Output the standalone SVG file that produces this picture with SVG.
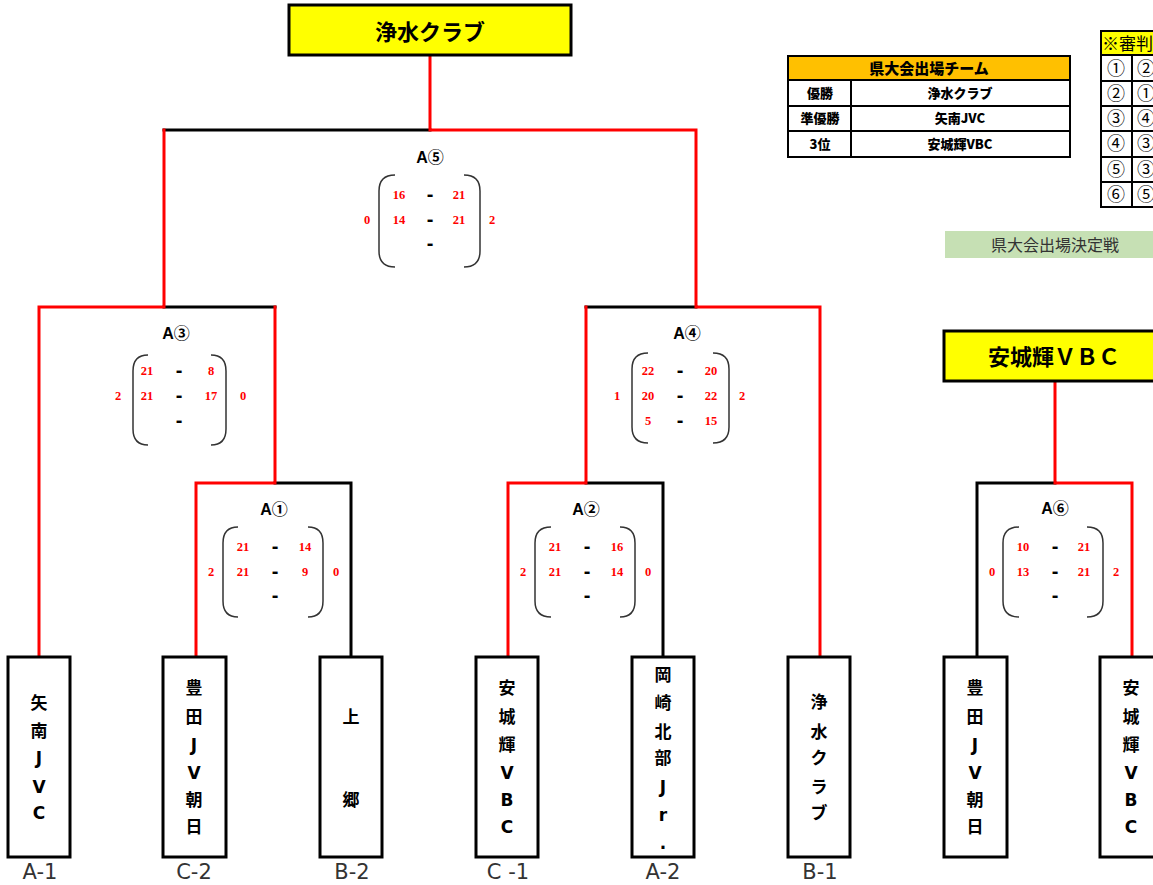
<svg xmlns="http://www.w3.org/2000/svg" width="1153" height="885" viewBox="0 0 1153 885">
<style>
.bg{fill:#fff}
.win{fill:#FFFF00;stroke:#000;stroke-width:3}
.team{fill:#fff;stroke:#000;stroke-width:3}
.red{fill:none;stroke:#FF0000;stroke-width:3;stroke-linejoin:miter;stroke-linecap:square}
.blk{fill:none;stroke:#000;stroke-width:3;stroke-linejoin:miter;stroke-linecap:square}
.br{fill:none;stroke:#333;stroke-width:1.5}
.big{font-family:"DejaVu Sans","Noto Sans CJK JP",sans-serif;font-weight:bold;font-size:22px;fill:#000;text-anchor:middle}
.vt{font-family:"DejaVu Sans","Noto Sans CJK JP",sans-serif;font-weight:bold;font-size:17px;fill:#000;text-anchor:middle}
.pos{font-family:"DejaVu Sans","Noto Sans CJK JP",sans-serif;font-size:21px;fill:#333;text-anchor:middle}
.ml{font-family:"Liberation Sans","Noto Sans CJK JP",sans-serif;font-weight:bold;font-size:16px;fill:#000;text-anchor:middle}
.sc{font-family:"Liberation Serif","Noto Sans CJK JP",serif;font-weight:bold;font-size:12.5px;fill:#FF0000;text-anchor:middle}
.ds{font-family:"Liberation Sans",sans-serif;font-weight:bold;font-size:20px;fill:#000;text-anchor:middle}
.tb{font-family:"Noto Sans CJK JP",sans-serif;font-weight:900;font-size:13px;fill:#000;text-anchor:middle}
.th{font-family:"Noto Sans CJK JP",sans-serif;font-weight:900;font-size:15px;fill:#000;text-anchor:middle}
.cell{fill:#fff;stroke:#000;stroke-width:2}
.rf{font-family:"Noto Sans CJK JP",sans-serif;font-size:18px;fill:#000;text-anchor:middle}
.rh{font-family:"Noto Sans CJK JP",sans-serif;font-size:17px;fill:#000;text-anchor:start}
</style>
<rect class="bg" x="0" y="0" width="1153" height="885"/>

<g id="connectors">
<path class="blk" d="M164,130 H430"/>
<path class="blk" d="M164,307 H275"/>
<path class="blk" d="M275,483 H351 V657"/>
<path class="blk" d="M586,307 H696"/>
<path class="blk" d="M586,483 H663 V657"/>
<path class="blk" d="M977,657 V483 H1055"/>
<path class="red" d="M430,57 V130 H696 V307 H820 V657"/>
<path class="red" d="M39,657 V307 H164 V130"/>
<path class="red" d="M196,657 V483 H275 V307"/>
<path class="red" d="M508,657 V483 H586 V307"/>
<path class="red" d="M1055,383 V483 H1132 V657"/>
</g>

<g id="champion">
<rect class="win" x="289" y="5" width="282" height="50"/>
<text class="big" x="430" y="40">浄水クラブ</text>
</g>

<g id="winner-a6">
<rect class="win" x="944" y="331" width="220" height="50"/>
<text class="big" x="1054" y="365">安城輝ＶＢＣ</text>
</g>

<g id="result-table">
<rect x="788" y="56" width="282" height="24" fill="#FFC000" stroke="#000" stroke-width="2"/>
<text class="th" x="929" y="74">県大会出場チーム</text>
<rect class="cell" x="788" y="80" width="63" height="26"/>
<rect class="cell" x="851" y="80" width="219" height="26"/>
<rect class="cell" x="788" y="106" width="63" height="25"/>
<rect class="cell" x="851" y="106" width="219" height="25"/>
<rect class="cell" x="788" y="131" width="63" height="26"/>
<rect class="cell" x="851" y="131" width="219" height="26"/>
<text class="tb" x="820" y="98">優勝</text>
<text class="tb" x="960" y="98">浄水クラブ</text>
<text class="tb" x="820" y="123">準優勝</text>
<text class="tb" x="960" y="123">矢南JVC</text>
<text class="tb" x="820" y="149">3位</text>
<text class="tb" x="960" y="149">安城輝VBC</text>
</g>

<g id="referee-table">
<rect x="1101" y="31" width="60" height="24" fill="#FFFF00" stroke="#000" stroke-width="2"/>
<text class="rh" x="1102" y="50">※審判</text>
<rect class="cell" x="1101" y="55" width="31" height="26"/><rect class="cell" x="1132" y="55" width="30" height="26"/>
<rect class="cell" x="1101" y="81" width="31" height="25"/><rect class="cell" x="1132" y="81" width="30" height="25"/>
<rect class="cell" x="1101" y="106" width="31" height="25"/><rect class="cell" x="1132" y="106" width="30" height="25"/>
<rect class="cell" x="1101" y="131" width="31" height="26"/><rect class="cell" x="1132" y="131" width="30" height="26"/>
<rect class="cell" x="1101" y="157" width="31" height="25"/><rect class="cell" x="1132" y="157" width="30" height="25"/>
<rect class="cell" x="1101" y="182" width="31" height="25"/><rect class="cell" x="1132" y="182" width="30" height="25"/>
<text class="rf" x="1116" y="75">①</text><text class="rf" x="1146" y="75">②</text>
<text class="rf" x="1116" y="100">②</text><text class="rf" x="1146" y="100">①</text>
<text class="rf" x="1116" y="125">③</text><text class="rf" x="1146" y="125">④</text>
<text class="rf" x="1116" y="150">④</text><text class="rf" x="1146" y="150">③</text>
<text class="rf" x="1116" y="176">⑤</text><text class="rf" x="1146" y="176">③</text>
<text class="rf" x="1116" y="201">⑥</text><text class="rf" x="1146" y="201">⑤</text>
</g>

<g id="qualifier-label">
<rect x="945" y="231" width="215" height="27" fill="#C6E0B4"/>
<text x="1055" y="251" font-family="Noto Sans CJK JP, sans-serif" font-size="16" fill="#333" text-anchor="middle">県大会出場決定戦</text>
</g>

<g id="match-a5">
<text class="ml" x="430" y="163">A⑤</text>
<path class="br" d="M395,175 Q379,175 379,191 V251 Q379,267 395,267"/>
<path class="br" d="M464,175 Q480,175 480,191 V251 Q480,267 464,267"/>
<text class="sc" x="399" y="199">16</text><text class="ds" x="430" y="201">-</text><text class="sc" x="459" y="199">21</text>
<text class="sc" x="399" y="224">14</text><text class="ds" x="430" y="226">-</text><text class="sc" x="459" y="224">21</text>
<text class="ds" x="430" y="250">-</text>
<text class="sc" x="367" y="224">0</text><text class="sc" x="492" y="224">2</text>
</g>

<g id="match-a3">
<text class="ml" x="176" y="339">A③</text>
<path class="br" d="M148,355 Q133,355 133,371 V429 Q133,445 148,445"/>
<path class="br" d="M211,355 Q226,355 226,371 V429 Q226,445 211,445"/>
<text class="sc" x="147" y="375">21</text><text class="ds" x="179" y="377">-</text><text class="sc" x="211" y="375">8</text>
<text class="sc" x="147" y="400">21</text><text class="ds" x="179" y="402">-</text><text class="sc" x="211" y="400">17</text>
<text class="ds" x="179" y="427">-</text>
<text class="sc" x="118" y="400">2</text><text class="sc" x="243" y="400">0</text>
</g>

<g id="match-a4">
<text class="ml" x="687" y="339">A④</text>
<path class="br" d="M648,353 Q632,353 632,369 V427 Q632,443 648,443"/>
<path class="br" d="M713,353 Q729,353 729,369 V427 Q729,443 713,443"/>
<text class="sc" x="648" y="375">22</text><text class="ds" x="680" y="377">-</text><text class="sc" x="711" y="375">20</text>
<text class="sc" x="648" y="400">20</text><text class="ds" x="680" y="402">-</text><text class="sc" x="711" y="400">22</text>
<text class="sc" x="648" y="425">5</text><text class="ds" x="680" y="427">-</text><text class="sc" x="711" y="425">15</text>
<text class="sc" x="617" y="400">1</text><text class="sc" x="742" y="400">2</text>
</g>

<g id="match-a1">
<text class="ml" x="274" y="515">A①</text>
<path class="br" d="M238,527 Q223,527 223,543 V601 Q223,617 238,617"/>
<path class="br" d="M308,527 Q323,527 323,543 V601 Q323,617 308,617"/>
<text class="sc" x="243" y="551">21</text><text class="ds" x="275" y="553">-</text><text class="sc" x="305" y="551">14</text>
<text class="sc" x="243" y="576">21</text><text class="ds" x="275" y="578">-</text><text class="sc" x="305" y="576">9</text>
<text class="ds" x="275" y="602">-</text>
<text class="sc" x="211" y="576">2</text><text class="sc" x="336" y="576">0</text>
</g>

<g id="match-a2">
<text class="ml" x="586" y="515">A②</text>
<path class="br" d="M551,527 Q535,527 535,543 V601 Q535,617 551,617"/>
<path class="br" d="M620,527 Q635,527 635,543 V601 Q635,617 620,617"/>
<text class="sc" x="555" y="551">21</text><text class="ds" x="587" y="553">-</text><text class="sc" x="617" y="551">16</text>
<text class="sc" x="555" y="576">21</text><text class="ds" x="587" y="578">-</text><text class="sc" x="617" y="576">14</text>
<text class="ds" x="587" y="602">-</text>
<text class="sc" x="523" y="576">2</text><text class="sc" x="648" y="576">0</text>
</g>

<g id="match-a6">
<text class="ml" x="1055" y="514">A⑥</text>
<path class="br" d="M1019,527 Q1003,527 1003,543 V601 Q1003,617 1019,617"/>
<path class="br" d="M1087,527 Q1103,527 1103,543 V601 Q1103,617 1087,617"/>
<text class="sc" x="1023" y="551">10</text><text class="ds" x="1055" y="553">-</text><text class="sc" x="1084" y="551">21</text>
<text class="sc" x="1023" y="576">13</text><text class="ds" x="1055" y="578">-</text><text class="sc" x="1084" y="576">21</text>
<text class="ds" x="1055" y="602">-</text>
<text class="sc" x="992" y="576">0</text><text class="sc" x="1116" y="576">2</text>
</g>

<g id="team-a1">
<rect class="team" x="8" y="657" width="62" height="200"/>
<text class="vt" x="39" y="709">矢</text><text class="vt" x="39" y="737">南</text><text class="vt" x="39" y="764">J</text><text class="vt" x="39" y="793">V</text><text class="vt" x="39" y="819">C</text>
<text class="pos" x="40" y="879">A-1</text>
</g>
<g id="team-c2">
<rect class="team" x="163" y="657" width="63" height="200"/>
<text class="vt" x="194" y="694">豊</text><text class="vt" x="194" y="723">田</text><text class="vt" x="194" y="751">J</text><text class="vt" x="194" y="779">V</text><text class="vt" x="194" y="806">朝</text><text class="vt" x="194" y="833">日</text>
<text class="pos" x="194" y="879">C-2</text>
</g>
<g id="team-b2">
<rect class="team" x="320" y="657" width="62" height="200"/>
<text class="vt" x="351" y="723">上</text><text class="vt" x="351" y="806">郷</text>
<text class="pos" x="352" y="879">B-2</text>
</g>
<g id="team-c1">
<rect class="team" x="476" y="657" width="62" height="200"/>
<text class="vt" x="507" y="694">安</text><text class="vt" x="507" y="723">城</text><text class="vt" x="507" y="751">輝</text><text class="vt" x="507" y="779">V</text><text class="vt" x="507" y="806">B</text><text class="vt" x="507" y="833">C</text>
<text class="pos" x="508" y="879">C -1</text>
</g>
<g id="team-a2">
<rect class="team" x="632" y="657" width="62" height="200"/>
<text class="vt" x="663" y="681">岡</text><text class="vt" x="663" y="709">崎</text><text class="vt" x="663" y="738">北</text><text class="vt" x="663" y="764">部</text><text class="vt" x="663" y="793">J</text><text class="vt" x="663" y="821">r</text><text class="vt" x="663" y="849">.</text>
<text class="pos" x="663" y="879">A-2</text>
</g>
<g id="team-b1">
<rect class="team" x="788" y="657" width="62" height="200"/>
<text class="vt" x="819" y="708">浄</text><text class="vt" x="819" y="738">水</text><text class="vt" x="819" y="764">ク</text><text class="vt" x="819" y="793">ラ</text><text class="vt" x="819" y="819">ブ</text>
<text class="pos" x="820" y="879">B-1</text>
</g>
<g id="team-a6-left">
<rect class="team" x="944" y="657" width="63" height="200"/>
<text class="vt" x="975" y="694">豊</text><text class="vt" x="975" y="723">田</text><text class="vt" x="975" y="751">J</text><text class="vt" x="975" y="779">V</text><text class="vt" x="975" y="806">朝</text><text class="vt" x="975" y="833">日</text>
</g>
<g id="team-a6-right">
<rect class="team" x="1100" y="657" width="62" height="200"/>
<text class="vt" x="1131" y="694">安</text><text class="vt" x="1131" y="723">城</text><text class="vt" x="1131" y="751">輝</text><text class="vt" x="1131" y="779">V</text><text class="vt" x="1131" y="806">B</text><text class="vt" x="1131" y="833">C</text>
</g>
</svg>
